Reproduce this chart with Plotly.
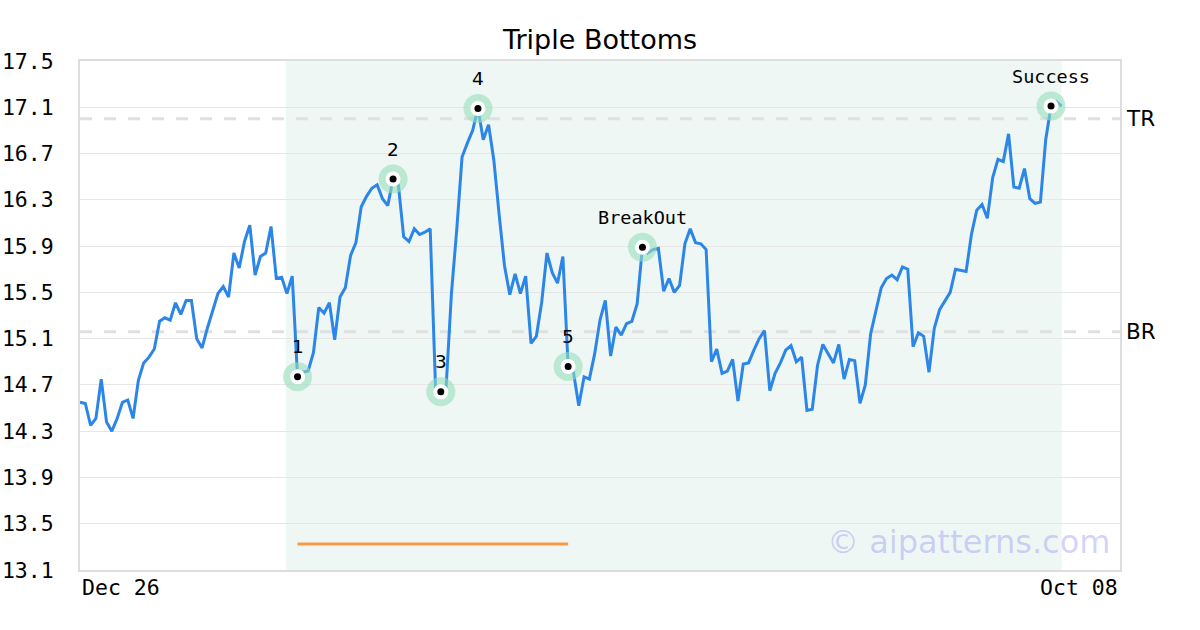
import plotly.graph_objects as go

# ---------------- data ----------------
x_labels = ["Dec 26", "Oct 08"]
prices = [
    14.55, 14.54, 14.35, 14.41, 14.75, 14.38, 14.30, 14.41, 14.55, 14.57,
    14.41, 14.74, 14.89, 14.94, 15.01, 15.25, 15.28, 15.26, 15.41, 15.31,
    15.43, 15.43, 15.10, 15.02, 15.19, 15.33, 15.49, 15.55, 15.46, 15.84,
    15.71, 15.94, 16.08, 15.65, 15.81, 15.84, 16.07, 15.62, 15.63, 15.49,
    15.64, 14.77, 14.81, 14.82, 14.98, 15.37, 15.32, 15.41, 15.09, 15.46,
    15.54, 15.82, 15.93, 16.24, 16.33, 16.40, 16.43, 16.31, 16.25, 16.48,
    16.43, 15.98, 15.94, 16.05, 16.00, 16.02, 16.05, 14.68, 14.64, 14.68,
    15.49, 16.04, 16.67, 16.79, 16.90, 17.09, 16.82, 16.95, 16.64, 16.17,
    15.73, 15.48, 15.66, 15.49, 15.64, 15.06, 15.12, 15.41, 15.84, 15.67,
    15.58, 15.81, 14.86, 14.81, 14.52, 14.77, 14.75, 14.97, 15.26, 15.43,
    14.95, 15.20, 15.13, 15.23, 15.25, 15.40, 15.89, 15.84, 15.87, 15.88,
    15.51, 15.62, 15.50, 15.56, 15.92, 16.05, 15.93, 15.92, 15.87, 14.90,
    15.01, 14.80, 14.82, 14.92, 14.56, 14.88, 14.89, 15.00, 15.10, 15.17,
    14.65, 14.80, 14.89, 15.00, 15.04, 14.90, 14.94, 14.48, 14.49, 14.87,
    15.05, 14.97, 14.89, 15.05, 14.75, 14.92, 14.91, 14.54, 14.70, 15.14,
    15.33, 15.54, 15.62, 15.65, 15.61, 15.72, 15.70, 15.03, 15.15, 15.12,
    14.81, 15.19, 15.35, 15.43, 15.50, 15.70, 15.69, 15.68, 16.00, 16.21,
    16.26, 16.14, 16.49, 16.65, 16.63, 16.87, 16.41, 16.40, 16.57, 16.31,
    16.27, 16.28, 16.82, 17.11, 17.15, 17.11,
]
pattern_idx = [41, 59, 68, 75, 92, 106, 183]
pattern_labels = ["1", "2", "3", "4", "5", "BreakOut", "Success"]
tr_level = 17.0
br_level = 15.16
base_line_level = 13.325
base_line_idx = [41, 92]
shade_start = 38.8
shade_end = 185
y_ticks = [13.1, 13.5, 13.9, 14.3, 14.7, 15.1, 15.5, 15.9, 16.3, 16.7, 17.1, 17.5]
y_range = [13.1, 17.5]
x_range = [0, 196]

# ---------------- styles ----------------
LINE_COLOR = "#2b86e8"
MONO = "DejaVu Sans Mono"
SANS = "DejaVu Sans"

x_vals = list(range(len(prices)))
fig = go.Figure()

fig.add_trace(go.Scatter(
    x=x_vals, y=prices, mode="lines",
    line=dict(color=LINE_COLOR, width=3),
    hoverinfo="skip", showlegend=False,
))

fig.add_trace(go.Scatter(
    x=base_line_idx, y=[base_line_level] * len(base_line_idx), mode="lines",
    line=dict(color="#f79a46", width=3),
    hoverinfo="skip", showlegend=False,
))

px_ = [x_vals[i] for i in pattern_idx]
py_ = [prices[i] for i in pattern_idx]
for size, color in [(29, "rgba(150,222,186,0.6)"), (15, "white"), (7, "black")]:
    fig.add_trace(go.Scatter(
        x=px_, y=py_, mode="markers",
        marker=dict(size=size, color=color, line=dict(width=0)),
        hoverinfo="skip", showlegend=False,
    ))

# shaded pattern region
fig.add_shape(type="rect", xref="x", yref="paper", x0=shade_start, x1=shade_end,
              y0=0, y1=1, fillcolor="#eff7f4", line=dict(width=0), layer="below")
# TR / BR dashed lines
for lvl in (tr_level, br_level):
    fig.add_shape(type="line", xref="paper", yref="y", x0=0, x1=1, y0=lvl, y1=lvl,
                  line=dict(color="#e0e0e0", width=3, dash="12px,12px"), layer="below")

annotations = []
for i, lab in zip(pattern_idx, pattern_labels):
    is_word = len(lab) > 1
    annotations.append(dict(
        x=x_vals[i], y=prices[i], xref="x", yref="y", text=lab, showarrow=False,
        yshift=30, font=dict(family=MONO if is_word else SANS, size=18.5, color="black"),
    ))
annotations.append(dict(x=1, y=tr_level, xref="paper", yref="y", text="TR",
                        xanchor="left", xshift=4, showarrow=False,
                        font=dict(family=SANS, size=21.5, color="black")))
annotations.append(dict(x=1, y=br_level, xref="paper", yref="y", text="BR",
                        xanchor="left", xshift=4, showarrow=False,
                        font=dict(family=SANS, size=21.5, color="black")))
annotations.append(dict(x=0, y=0, xref="paper", yref="paper", text=x_labels[0],
                        xanchor="left", yanchor="top", yshift=-3, showarrow=False,
                        font=dict(family=MONO, size=21.5, color="black")))
annotations.append(dict(x=1, y=0, xref="paper", yref="paper", text=x_labels[1],
                        xanchor="right", yanchor="top", yshift=-3, showarrow=False,
                        font=dict(family=MONO, size=21.5, color="black")))
annotations.append(dict(x=1, y=0.055, xref="paper", yref="paper", text="© aipatterns.com",
                        xanchor="right", yanchor="middle", xshift=-8, showarrow=False,
                        font=dict(family=SANS, size=32, color="rgba(120,120,245,0.32)")))

fig.update_layout(
    width=1200, height=630,
    margin=dict(l=80, r=80, t=61, b=60, autoexpand=False),
    paper_bgcolor="white", plot_bgcolor="white",
    title=dict(text="Triple Bottoms", x=0.5, xanchor="center", y=1 - 40 / 630,
               yanchor="middle", yref="container",
               font=dict(family=SANS, size=27, color="black")),
    annotations=annotations,
    showlegend=False,
)
fig.update_xaxes(range=x_range, showgrid=False, zeroline=False, showticklabels=False,
                 showline=True, mirror=True, linecolor="#dddddd", linewidth=2, ticks="",
                 automargin=False)
fig.update_yaxes(range=y_range, tickvals=y_ticks, ticktext=[f"{v:.1f}" for v in y_ticks],
                 showgrid=True, gridcolor="#e6e6e6", gridwidth=1, zeroline=False,
                 showline=True, mirror=True, linecolor="#dddddd", linewidth=2,
                 ticks="", ticklabelstandoff=20, automargin=False,
                 tickfont=dict(family=MONO, size=21.5, color="black"))

fig.write_html("out.html", config={"displayModeBar": False})

# remove the default page margin so the figure sits at the window origin
with open("out.html", "r", encoding="utf-8") as f:
    html = f.read()
html = html.replace("<body>", '<body style="margin:0;padding:0;">', 1)
with open("out.html", "w", encoding="utf-8") as f:
    f.write(html)
